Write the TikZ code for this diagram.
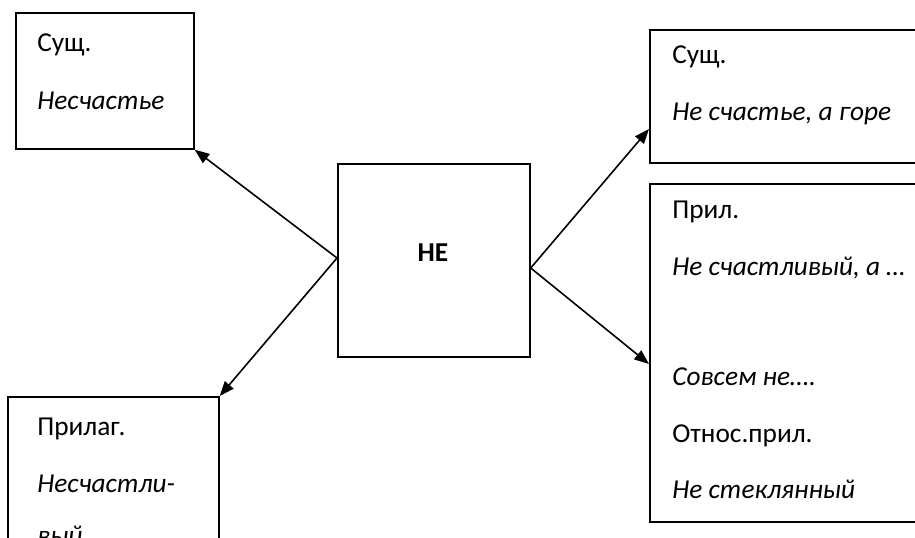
\documentclass[tikz,border=0pt]{standalone}
\usepackage{fontspec}
\setmainfont{Carlito}
\usetikzlibrary{arrows.meta}
\begin{document}
\begin{tikzpicture}[x=0.75pt,y=-0.75pt,
  box/.style={draw,line width=1.3pt,rectangle,inner sep=0pt,anchor=north west},
  lbl/.style={anchor=base west,inner sep=0pt,font=\fontsize{20.5}{24}\selectfont},
  arr/.style={line width=1.2pt,-{Triangle[length=11pt,width=8.5pt]}}]
\useasboundingbox (0,0) rectangle (915,537);
\clip (0,0) rectangle (915,537);
% boxes
\node[box,minimum width=178*0.75pt,minimum height=136*0.75pt] (a) at (15,12) {};
\node[box,minimum width=280*0.75pt,minimum height=133*0.75pt] (b) at (649,29) {};
\node[box,minimum width=280*0.75pt,minimum height=338*0.75pt] (c) at (649,183) {};
\node[box,minimum width=211*0.75pt,minimum height=180*0.75pt] (d) at (7,396) {};
\node[box,minimum width=192*0.75pt,minimum height=193*0.75pt] (ne) at (337,163) {};
\node[font=\fontsize{20.5}{24}\selectfont\bfseries] (netext) at (433,253) {НЕ};
% texts
\node[lbl] (a1) at (37,51) {Сущ.};
\node[lbl] (a2) at (37,109) {\itshape Несчастье};
\node[lbl] (b1) at (672,63) {Сущ.};
\node[lbl] (b2) at (672,120) {\itshape Не счастье, а горе};
\node[lbl] (c1) at (672,218) {Прил.};
\node[lbl] (c2) at (672,275) {\itshape Не счастливый, а …};
\node[lbl] (c3) at (672,385) {\itshape Совсем не….};
\node[lbl] (c4) at (672,442) {Относ.прил.};
\node[lbl] (c5) at (672,498) {\itshape Не стеклянный};
\node[lbl] (d1) at (37,435) {Прилаг.};
\node[lbl] (d2) at (37,492) {\itshape Несчастли-};
\node[lbl] (d3) at (37,544) {\itshape вый};
% connector points
\coordinate (lo) at (ne.west |- 0,258);
\coordinate (ro) at (ne.east |- 0,268);
\coordinate (bt) at (b.west |- 0,129);
\coordinate (ct) at (c.west |- 0,364);
\draw[arr] (lo) -- (a.south east);
\draw[arr] (lo) -- (d.north east);
\draw[arr] (ro) -- (bt);
\draw[arr] (ro) -- (ct);
\end{tikzpicture}
\end{document}
